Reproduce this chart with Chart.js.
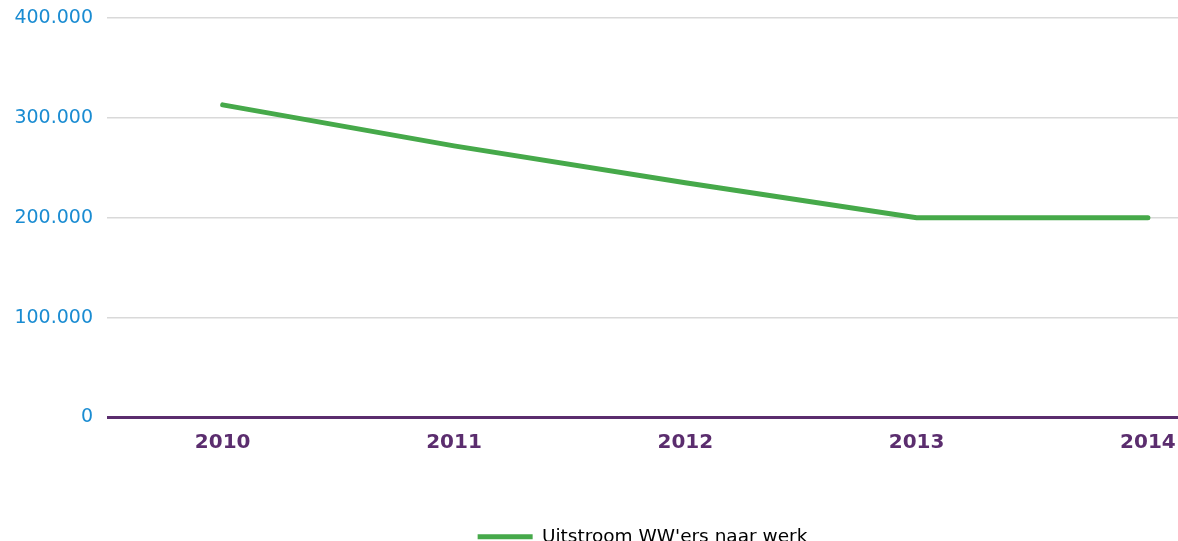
<!DOCTYPE html>
<html lang="nl">
<head>
    <meta charset="UTF-8">
    <title>Uitstroom WW'ers naar werk</title>
    <script src="https://cdn.jsdelivr.net/npm/chart.js"></script>
    <style>
        html, body {
            margin: 0;
            padding: 0;
            background: #ffffff;
            overflow: hidden;
        }
        #wrap {
            width: 1178px;
            height: 541px;
            overflow: hidden;
        }
    </style>
</head>
<body>
    <div id="wrap">
        <canvas id="chart" width="1178" height="556"></canvas>
    </div>

    <script>
        const years = ['2010', '2011', '2012', '2013', '2014'];
        const uitstroom = [313000, 272000, 235000, 200000, 200000];
        const yTicks = [0, 100000, 200000, 300000, 400000];

        const purple = '#5B2D6E';
        const blue = '#1A8CD2';
        const green = '#46A94A';

        // dutch thousands separator: 400.000
        function fmt(v) {
            return String(v).replace(/\B(?=(\d{3})+(?!\d))/g, '.');
        }

        new Chart(document.getElementById('chart'), {
            type: 'line',
            data: {
                datasets: [{
                    label: "Uitstroom WW'ers naar werk",
                    data: uitstroom.map((v, i) => ({ x: i, y: v })),
                    borderColor: green,
                    backgroundColor: green,
                    borderWidth: 5,
                    borderCapStyle: 'round',
                    pointRadius: 0,
                    pointStyle: 'line',
                    tension: 0
                }]
            },
            options: {
                responsive: false,
                animation: false,
                devicePixelRatio: 1,
                layout: { padding: { top: 18, right: 0, left: 0, bottom: 0 } },
                plugins: {
                    tooltip: { enabled: false },
                    legend: {
                        position: 'bottom',
                        fullSize: false,
                        labels: {
                            usePointStyle: true,
                            pointStyleWidth: 55,
                            boxHeight: 5,
                            color: '#000000',
                            font: { family: 'DejaVu Sans', size: 18.5 },
                            padding: 10
                        }
                    }
                },
                scales: {
                    x: {
                        type: 'linear',
                        min: -0.5,
                        max: 4.13,
                        grid: { display: false },
                        border: { display: false },
                        afterBuildTicks: s => {
                            s.ticks = years.map((_, i) => ({ value: i }));
                        },
                        afterFit: s => {
                            s.height += 58;
                            s.paddingLeft = 0;
                            s.paddingRight = 0;
                        },
                        ticks: {
                            color: purple,
                            padding: 5,
                            maxRotation: 0,
                            autoSkip: false,
                            font: { family: 'DejaVu Sans', size: 20, weight: 'bold' },
                            callback: v => years[v]
                        }
                    },
                    y: {
                        min: 0,
                        max: 400000,
                        afterBuildTicks: s => {
                            s.ticks = yTicks.map(v => ({ value: v }));
                        },
                        afterFit: s => {
                            s.width = 107;
                            s.paddingTop = 0;
                            s.paddingBottom = 0;
                        },
                        border: { display: false },
                        grid: {
                            drawTicks: false,
                            color: c => c.tick.value === 0 ? purple : '#d9d9d9',
                            lineWidth: c => c.tick.value === 0 ? 3 : 1.5
                        },
                        ticks: {
                            color: blue,
                            padding: 14,
                            font: { family: 'DejaVu Sans', size: 19 },
                            callback: v => fmt(v)
                        }
                    }
                }
            }
        });
    </script>
</body>
</html>
